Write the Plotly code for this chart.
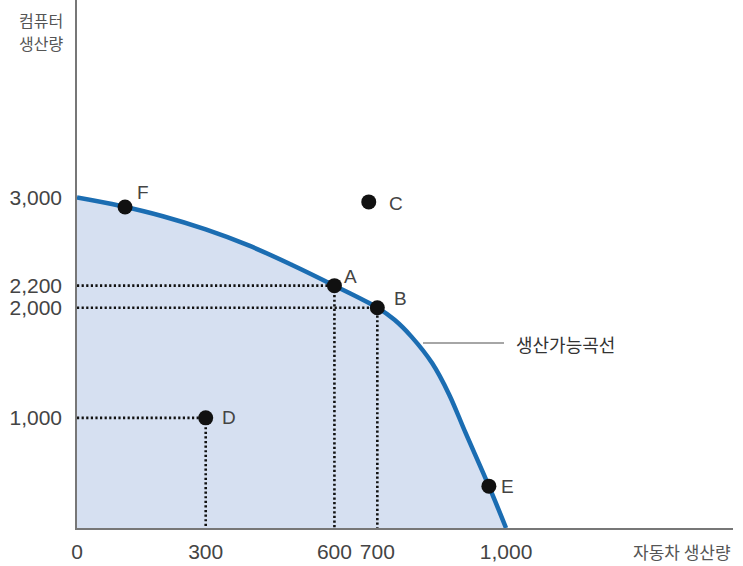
import plotly.graph_objects as go

# ---- data ----
curve_x = [0, 100, 200, 300, 400, 500, 600, 700, 740, 780, 828, 867, 905, 960, 1000]
curve_y = [3000, 2925, 2830, 2710, 2565, 2390, 2200, 2000, 1890, 1735, 1495, 1215, 870, 380, 0]

point_labels = ["F", "A", "B", "C", "D", "E"]
point_x = [112, 600, 700, 680, 300, 960]
point_y = [2914, 2200, 2000, 2960, 1000, 380]

guide_labels = ["A", "B", "D"]  # points with dotted guide lines

x_tickvals = [0, 300, 600, 700, 1000]
x_ticktext = ["0", "300", "600", "700", "1,000"]
y_tickvals = [1000, 2000, 2200, 3000]
y_ticktext = ["1,000", "2,000", "2,200", "3,000"]

x_title = "자동차 생산량"
y_title = ["컴퓨터", "생산량"]
curve_name = "생산가능곡선"

# ---- style ----
W, H = 743, 566
ML, MR, MT, MB = 77, 10, 0, 38
PW, PH = W - ML - MR, H - MT - MB
X_MAX = 1529
Y_MAX = 4793
NUM_FONT = "Liberation Sans, Arial, sans-serif"
KR_FONT = "Noto Sans CJK KR, sans-serif"
LINE_BLUE = "#1b6db2"
FILL_BLUE = "#d6e0f1"
label_offsets = {"F": (18, -14), "A": (16, -9), "B": (23, -9), "C": (27, 2), "D": (23, 0), "E": (19, 0)}


def px_x(p):
    return (p - ML) / PW


def px_y(p):
    return 1 - (p - MT) / PH


fig = go.Figure()

# filled area under the curve
fig.add_trace(go.Scatter(
    x=curve_x, y=curve_y, mode="lines",
    line=dict(color=LINE_BLUE, width=4.5, shape="spline", smoothing=1.0),
    fill="tozeroy", fillcolor=FILL_BLUE, hoverinfo="skip", showlegend=False,
))

# dotted guide lines
for lab in guide_labels:
    i = point_labels.index(lab)
    gx, gy = point_x[i], point_y[i]
    fig.add_trace(go.Scatter(
        x=[0, gx, gx], y=[gy, gy, 0], mode="lines",
        line=dict(color="#111111", width=2.6, dash="2.2px,2.4px"),
        hoverinfo="skip", showlegend=False,
    ))

# points
fig.add_trace(go.Scatter(
    x=point_x, y=point_y, mode="markers",
    marker=dict(color="#111111", size=15),
    hoverinfo="skip", showlegend=False,
))

annotations = []
for lab, ax_, ay_ in zip(point_labels, point_x, point_y):
    dx, dy = label_offsets[lab]
    annotations.append(dict(
        x=ax_, y=ay_, xref="x", yref="y", text=lab, showarrow=False,
        xanchor="center", yanchor="middle", xshift=dx, yshift=-dy,
        font=dict(family=NUM_FONT, size=19, color="#444444"),
    ))

# curve legend label
annotations.append(dict(
    x=px_x(514), y=px_y(344), xref="paper", yref="paper", text=curve_name, showarrow=False,
    xanchor="left", yanchor="middle",
    font=dict(family=KR_FONT, size=18, color="#333333"),
))

# axis titles
annotations.append(dict(
    x=px_x(733), y=px_y(551), xref="paper", yref="paper", text=x_title, showarrow=False,
    xanchor="right", yanchor="middle",
    font=dict(family=KR_FONT, size=17, color="#555555"),
))
for k, t in enumerate(y_title):
    annotations.append(dict(
        x=px_x(41), y=px_y(19.5 + 23.5 * k),
        xref="paper", yref="paper", text=t, showarrow=False,
        xanchor="center", yanchor="middle",
        font=dict(family=KR_FONT, size=16, color="#555555"),
    ))

shapes = [dict(
    type="line", xref="paper", yref="paper", x0=px_x(423), x1=px_x(504),
    y0=px_y(343), y1=px_y(343),
    line=dict(color="#888888", width=1.5),
)]

fig.update_layout(
    width=W, height=H,
    margin=dict(l=ML, r=MR, t=MT, b=MB, pad=0),
    paper_bgcolor="white", plot_bgcolor="white",
    annotations=annotations, shapes=shapes,
    xaxis=dict(
        range=[0, X_MAX], tickvals=x_tickvals, ticktext=x_ticktext,
        showgrid=False, zeroline=False, showline=True, linecolor="#777777", linewidth=1.5,
        ticks="outside", ticklen=4, tickcolor="rgba(0,0,0,0)",
        tickfont=dict(family=NUM_FONT, size=21, color="#444444"),
        fixedrange=True,
    ),
    yaxis=dict(
        range=[0, Y_MAX], tickvals=y_tickvals, ticktext=y_ticktext,
        showgrid=False, zeroline=False, showline=True, linecolor="#777777", linewidth=1.5,
        ticks="outside", ticklen=9, tickcolor="rgba(0,0,0,0)",
        tickfont=dict(family=NUM_FONT, size=21, color="#444444"),
        fixedrange=True,
    ),
)

fig.write_html("out.html")
